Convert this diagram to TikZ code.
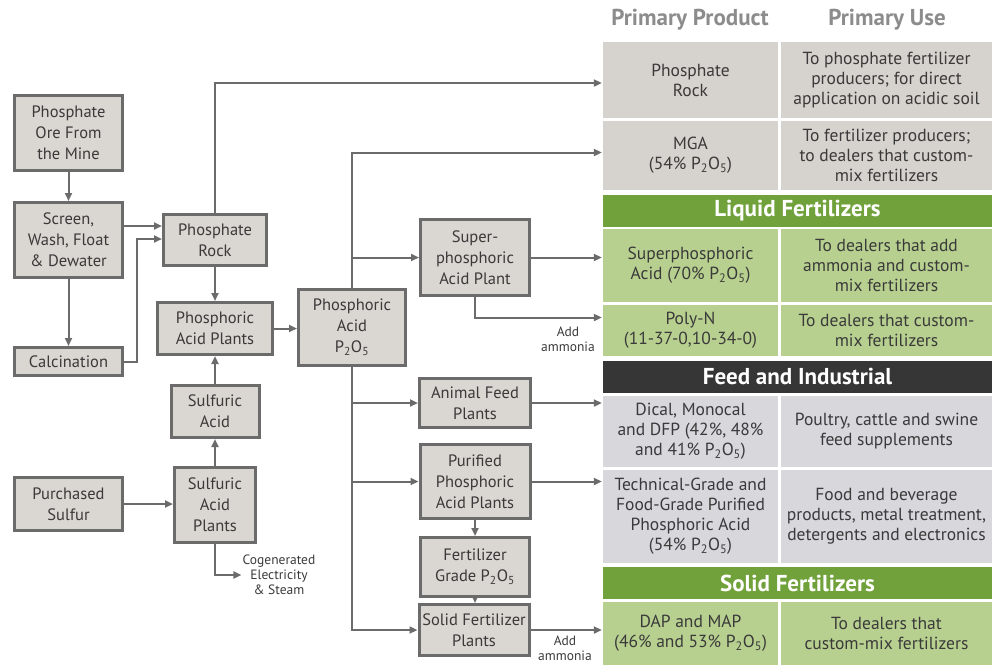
\documentclass[tikz,border=0pt]{standalone}
\usepackage{fontspec}
\setmainfont{PT Sans}
\usetikzlibrary{arrows.meta,positioning,calc}
\definecolor{linec}{HTML}{6B6B6B}
\definecolor{boxfill}{HTML}{DAD6D1}
\definecolor{txt}{HTML}{3A3A3A}
\definecolor{prodgrey}{HTML}{D6D2CD}
\definecolor{greenhdr}{HTML}{71A13B}
\definecolor{greenrow}{HTML}{B8D08F}
\definecolor{feedrow}{HTML}{D7D7DC}
\definecolor{darkhdr}{HTML}{363636}
\definecolor{headtxt}{HTML}{8C8C8C}
\newcommand{\pfive}{P\textsubscript{2}O\textsubscript{5}}
\tikzset{
  flowbox/.style={draw=linec, fill=boxfill, line width=3pt, text=txt, align=center,
    inner sep=0pt, font=\fontsize{16.5}{21}\selectfont},
  arr/.style={draw=linec, line width=2pt, -{Triangle[length=8pt,width=7pt]}},
  cell/.style={inner sep=0pt, align=center, text=txt, font=\fontsize{17.5}{20}\selectfont},
  hdrcell/.style={inner sep=0pt, align=center, text=white, font=\fontsize{23}{26}\selectfont\bfseries,
    minimum width=389pt, minimum height=32pt},
  coltitle/.style={text=headtxt, font=\fontsize{23}{26}\selectfont\bfseries},
  smalltxt/.style={text=txt, align=center, inner sep=1pt, font=\fontsize{13.5}{15}\selectfont}
}
\begin{document}
\begin{tikzpicture}[x=1pt,y=-1pt]
\useasboundingbox (0,0) rectangle (992,665);
% ---------- table ----------
\node[coltitle] (t1) at (690,20) {Primary Product};
\node[coltitle] (t2) at (887,20) {Primary Use};

\node[cell, fill=prodgrey, minimum width=175pt, minimum height=76pt] (prod1) at (690.5,80) {Phosphate\\Rock};
\node[cell, fill=prodgrey, minimum width=211pt, minimum height=76pt] (use1) at (886.5,80) {To phosphate fertilizer\\producers; for direct\\application on acidic soil};
\node[cell, fill=prodgrey, minimum width=175pt, minimum height=69pt] (prod2) at (690.5,155.5) {MGA\\(54\% \pfive)};
\node[cell, fill=prodgrey, minimum width=211pt, minimum height=69pt] (use2) at (886.5,155.5) {To fertilizer producers;\\to dealers that custom-\\mix fertilizers};

\node[hdrcell, fill=greenhdr] (hliq) at (797.5,211) {Liquid Fertilizers};
\node[cell, fill=greenrow, minimum width=175pt, minimum height=73pt] (prod3) at (690.5,265.5) {Superphosphoric\\Acid (70\% \pfive)};
\node[cell, fill=greenrow, minimum width=211pt, minimum height=73pt] (use3) at (886.5,265.5) {To dealers that add\\ammonia and custom-\\mix fertilizers};
\node[cell, fill=greenrow, minimum width=175pt, minimum height=51pt] (prod4) at (690.5,330.5) {Poly-N\\(11-37-0,10-34-0)};
\node[cell, fill=greenrow, minimum width=211pt, minimum height=51pt] (use4) at (886.5,330.5) {To dealers that custom-\\mix fertilizers};

\node[hdrcell, fill=darkhdr] (hfeed) at (797.5,376.5) {Feed and Industrial};
\node[cell, fill=feedrow, minimum width=175pt, minimum height=71pt] (prod5) at (690.5,431.5) {Dical, Monocal\\and DFP (42\%, 48\%\\and 41\% \pfive)};
\node[cell, fill=feedrow, minimum width=211pt, minimum height=71pt] (use5) at (886.5,431.5) {Poultry, cattle and swine\\feed supplements};
\node[cell, fill=feedrow, minimum width=175pt, minimum height=93pt] (prod6) at (690.5,516.5) {Technical-Grade and\\Food-Grade Purified\\Phosphoric Acid\\(54\% \pfive)};
\node[cell, fill=feedrow, minimum width=211pt, minimum height=93pt] (use6) at (886.5,516.5) {Food and beverage\\products, metal treatment,\\detergents and electronics};

\node[hdrcell, fill=greenhdr] (hsol) at (797.5,583) {Solid Fertilizers};
\node[cell, fill=greenrow, minimum width=175pt, minimum height=63pt] (prod7) at (690.5,633.5) {DAP and MAP\\(46\% and 53\% \pfive)};
\node[cell, fill=greenrow, minimum width=211pt, minimum height=63pt] (use7) at (886.5,633.5) {To dealers that\\custom-mix fertilizers};

% ---------- flow boxes ----------
\node[flowbox, minimum width=108pt, minimum height=75pt] (ore) at (68.5,133) {Phosphate\\Ore From\\the Mine};
\node[flowbox, minimum width=108pt, minimum height=75pt] (screen) at (68.5,240) {Screen,\\Wash, Float\\\& Dewater};
\node[flowbox, minimum width=108pt, minimum height=28pt] (calc) at (68.5,361.5) {Calcination};
\node[flowbox, minimum width=108pt, minimum height=53pt] (psulfur) at (68.5,504) {Purchased\\Sulfur};
\node[flowbox, minimum width=103pt, minimum height=51pt] (rock) at (215,240) {Phosphate\\Rock};
\node[flowbox, minimum width=115pt, minimum height=52pt] (pap) at (215,328.5) {Phosphoric\\Acid Plants};
\node[flowbox, minimum width=88pt, minimum height=52pt] (sacid) at (215,411.5) {Sulfuric\\Acid};
\node[flowbox, minimum width=81pt, minimum height=75pt] (sap) at (215,505) {Sulfuric\\Acid\\Plants};
\node[flowbox, minimum width=107pt, minimum height=76pt] (pa) at (352,327.5) {Phosphoric\\Acid\\\pfive};
\node[flowbox, minimum width=109pt, minimum height=76pt] (spap) at (475,257.5) {Super-\\phosphoric\\Acid Plant};
\node[flowbox, minimum width=111pt, minimum height=49pt] (afp) at (475,403) {Animal Feed\\Plants};
\node[flowbox, minimum width=110pt, minimum height=74pt] (ppap) at (475,481.5) {Purified\\Phosphoric\\Acid Plants};
\node[flowbox, minimum width=109pt, minimum height=59pt] (fg) at (475,567) {Fertilizer\\Grade \pfive};
\node[flowbox, minimum width=110pt, minimum height=51pt] (sfp) at (474,630) {Solid Fertilizer\\Plants};

\node[smalltxt] (cogen) at (279,575) {Cogenerated\\Electricity\\\& Steam};
\node[smalltxt] (amm1) at (568,339) {Add\\ammonia};
\node[smalltxt] (amm2) at (565,648) {Add\\ammonia};

% ---------- connectors ----------
\draw[arr] (ore) -- (screen);
\draw[arr] (screen) -- (calc);
\draw[arr] ([yshift=14pt]screen.east) -- ([yshift=14pt]rock.west);
\draw[arr] (calc.east) -- ++(13,0) |- ([yshift=1pt]rock.west);
\draw[arr, shorten >=1pt] (rock.north) |- ([yshift=-3pt]prod1.west);
\draw[arr] (rock) -- (pap);
\draw[arr] (sacid) -- (pap);
\draw[arr] (sap) -- (sacid);
\draw[arr] (psulfur.east) -- (psulfur.east -| sap.west);
\draw[arr] (sap.south) |- (cogen.west);
\draw[arr] (pap.east) -- (pap.east -| pa.west);
\draw[arr, shorten >=1pt] (pa.north) |- ([yshift=3pt]prod2.west);
\draw[arr] (pa.north |- spap.west) -- (spap.west);
\draw[arr] (pa.south) |- (sfp.west);
\draw[arr] (pa.south |- afp.west) -- (afp.west);
\draw[arr] (pa.south |- ppap.west) -- (ppap.west);
\draw[arr, shorten >=1pt] (spap.east) -- (spap.east -| prod3.west);
\draw[arr, shorten >=1pt] (spap.south) |- ([yshift=13pt]prod4.west);
\draw[arr, shorten >=1pt] (afp.east) -- (afp.east -| prod5.west);
\draw[arr, shorten >=1pt] (ppap.east) -- (ppap.east -| prod6.west);
\draw[arr, shorten >=1pt] (sfp.east) -- (sfp.east -| prod7.west);
\draw[arr] (ppap) -- (fg);
\draw[arr] (fg.south) -- (fg.south |- sfp.north);
\end{tikzpicture}
\end{document}
